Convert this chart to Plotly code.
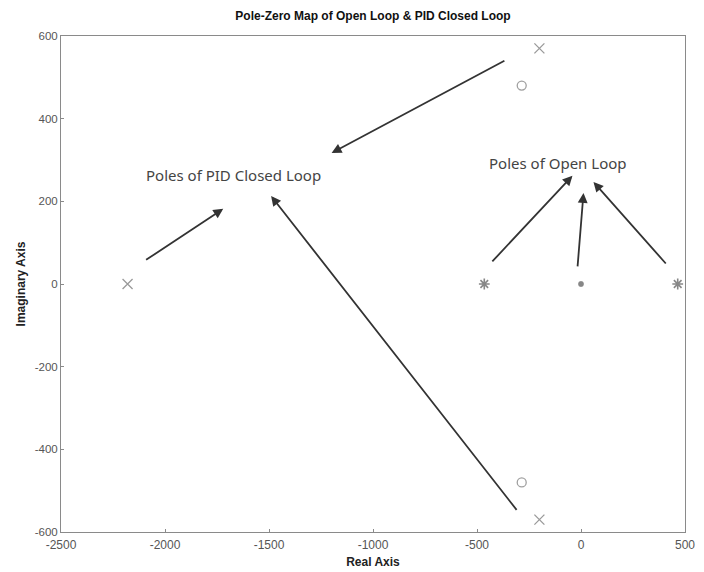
import plotly.graph_objects as go

# ---- data ----
closed_loop_poles_re = [-2180, -200, -200]
closed_loop_poles_im = [0, 570, -570]
zeros_re = [-285, -285]
zeros_im = [480, -480]
open_loop_poles_re = [-465, 0, 465]
open_loop_poles_im = [0, 0, 0]

x_ticks = [-2500, -2000, -1500, -1000, -500, 0, 500]
x_tick_labels = ["-2500", "-2000", "-1500", "-1000", "-500", "0", "500"]
y_ticks = [-600, -400, -200, 0, 200, 400, 600]
y_tick_labels = ["-600", "-400", "-200", "0", "200", "400", "600"]

# arrows: tail -> head (data coordinates)
arrow_tail_x = [-361, -2098, -304, -433, -17, 414]
arrow_tail_y = [542, 56, -550, 51, 39, 46]
arrow_head_x = [-1199, -1720, -1490, -41, 12, 60]
arrow_head_y = [317, 182, 213, 262, 220, 247]

label_texts = ["Poles of PID Closed Loop", "Poles of Open Loop"]
label_x = [-1672, -112]
label_y = [264, 293]

fig = go.Figure()
fig.add_trace(go.Scatter(x=closed_loop_poles_re, y=closed_loop_poles_im, mode="markers",
                         marker=dict(symbol="x-thin", size=10, color="#9a9a9a",
                                     line=dict(color="#9a9a9a", width=1.3)),
                         showlegend=False))
fig.add_trace(go.Scatter(x=zeros_re, y=zeros_im, mode="markers",
                         marker=dict(symbol="circle-open", size=9, color="#a0a0a0",
                                     line=dict(color="#a0a0a0", width=1.3)),
                         showlegend=False))
fig.add_trace(go.Scatter(x=open_loop_poles_re, y=open_loop_poles_im, mode="markers",
                         marker=dict(symbol="asterisk", size=[9, 5, 9], color="#555555",
                                     line=dict(color="#555555", width=1.6)),
                         showlegend=False))

for tx, ty, hx, hy in zip(arrow_tail_x, arrow_tail_y, arrow_head_x, arrow_head_y):
    fig.add_annotation(x=hx, y=hy, ax=tx, ay=ty, xref="x", yref="y", axref="x", ayref="y",
                       text="", showarrow=True, arrowhead=2, arrowsize=1.1, arrowwidth=1.8,
                       arrowcolor="#333333")

for t, lx, ly in zip(label_texts, label_x, label_y):
    fig.add_annotation(x=lx, y=ly, xref="x", yref="y", text=t, showarrow=False,
                       font=dict(family="Noto Sans", size=15, color="#444444"))

axis_common = dict(showline=True, mirror=True, linecolor="#8a8a8a", linewidth=1,
                   ticks="inside", ticklen=3, tickcolor="#8a8a8a", showgrid=False, zeroline=False)

fig.update_xaxes(range=[-2500, 500], tickvals=x_ticks, ticktext=x_tick_labels, **axis_common,
                 tickfont=dict(family="Liberation Sans", size=12, color="#555555"),
                 ticklabelstandoff=2,
                 title=dict(text="<b>Real Axis</b>", font=dict(family="Liberation Sans", size=12, color="#222222"),
                            standoff=6))
fig.update_yaxes(range=[-600, 600], tickvals=y_ticks, ticktext=y_tick_labels, **axis_common,
                 tickfont=dict(family="Liberation Sans", size=11.5, color="#555555"),
                 title=dict(text="<b>Imaginary Axis</b>", font=dict(family="Liberation Sans", size=12, color="#222222"),
                            standoff=6))

fig.update_layout(
    width=704, height=572,
    margin=dict(l=53, r=27, t=28, b=48),
    paper_bgcolor="white", plot_bgcolor="white",
    title=dict(text="<b>Pole-Zero Map of Open Loop &amp; PID Closed Loop</b>", x=0.5, xref="paper",
               xanchor="center", y=0.993, yanchor="top",
               font=dict(family="Liberation Sans", size=12, color="#111111")),
)

fig.write_html("out.html")
